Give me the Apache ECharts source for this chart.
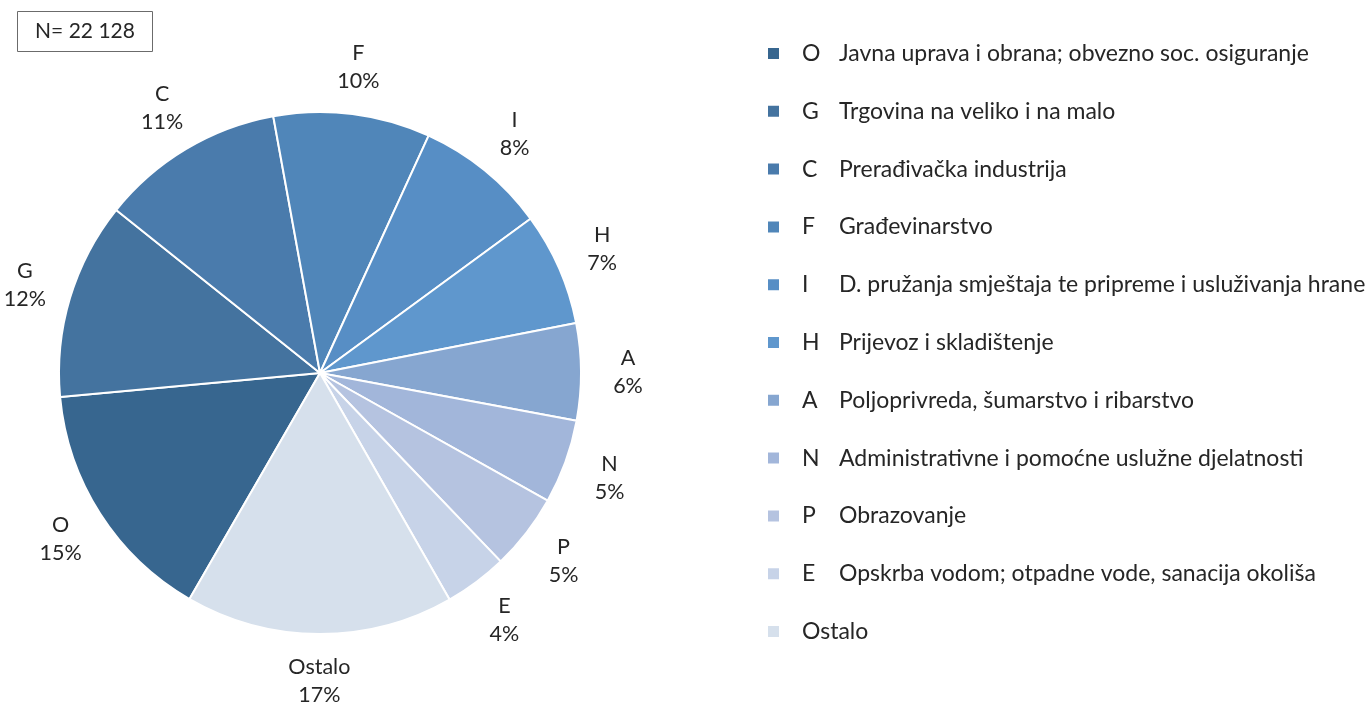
<!DOCTYPE html>
<html>
<head>
<meta charset="utf-8">
<title>Djelatnosti</title>
<script src="https://cdn.jsdelivr.net/npm/echarts@6/dist/echarts.min.js"></script>
<style>
  html, body { margin: 0; padding: 0; background: #ffffff; }
  #chart { width: 1372px; height: 704px; }
</style>
</head>
<body>
<div id="chart"></div>
<script>
// Activity codes, their full names and share of the total (%)
const codes = ['O', 'G', 'C', 'F', 'I', 'H', 'A', 'N', 'P', 'E', 'Ostalo'];
const names = [
  'Javna uprava i obrana; obvezno soc. osiguranje',
  'Trgovina na veliko i na malo',
  'Prerađivačka industrija',
  'Građevinarstvo',
  'D. pružanja smještaja te pripreme i usluživanja hrane',
  'Prijevoz i skladištenje',
  'Poljoprivreda, šumarstvo i ribarstvo',
  'Administrativne i pomoćne uslužne djelatnosti',
  'Obrazovanje',
  'Opskrba vodom; otpadne vode, sanacija okoliša',
  ''
];
const shares = [15.2, 12.2, 11.4, 9.7, 8.1, 7.0, 6.0, 5.2, 4.7, 3.9, 16.6];
const colors = ['#37668f', '#44739f', '#4a7bac', '#5086b9', '#578ec5', '#5f97cd',
                '#86a6d0', '#a2b6da', '#b5c3e0', '#c7d3e8', '#d6e0ec'];
const totalLabel = 'N= 22 128';

const FONT = 'Lato, "Noto Sans", sans-serif';
const TEXT = '#262626';

const pieData = codes.map((c, i) => ({
  name: c,
  value: shares[i],
  itemStyle: { color: colors[i] }
}));
const labelData = codes.map((c, i) => ({ name: c, value: shares[i] }));
const fullName = {};
codes.forEach((c, i) => { fullName[c] = names[i]; });

const chart = echarts.init(document.getElementById('chart'), null, { renderer: 'canvas' });

chart.setOption({
  animation: false,
  backgroundColor: '#ffffff',
  graphic: [{
    type: 'group',
    left: 17,
    top: 11,
    children: [
      { type: 'rect', shape: { x: 0, y: 0, width: 135, height: 40 },
        style: { fill: '#ffffff', stroke: '#6b6b6b', lineWidth: 1 } },
      { type: 'text', x: 67.5, y: 20,
        style: { text: totalLabel, fill: TEXT, font: '21px ' + FONT,
                 align: 'center', verticalAlign: 'middle' } }
    ]
  }],
  legend: {
    orient: 'vertical',
    left: 761,
    top: 37,
    itemWidth: 13,
    itemHeight: 13,
    itemGap: 34.8,
    itemTextGap: 7,
    icon: 'rect',
    data: codes,
    formatter: function (c) {
      return fullName[c]
        ? '{s|}{l|' + c + '}{n|' + fullName[c] + '}'
        : '{s|}{n|' + c + '}';
    },
    textStyle: {
      color: TEXT,
      fontFamily: FONT,
      fontSize: 23,
      lineHeight: 22,
      rich: {
        s: { width: 17 },
        l: { width: 37, fontSize: 23, fontFamily: FONT, color: TEXT },
        n: { fontSize: 23, fontFamily: FONT, color: TEXT }
      }
    }
  },
  series: [
    {
      type: 'pie',
      center: [320, 373],
      radius: [0, 261],
      startAngle: 240,
      clockwise: true,
      silent: true,
      label: { show: false },
      labelLine: { show: false },
      itemStyle: { borderColor: '#ffffff', borderWidth: 2 },
      data: pieData
    },
    {
      // transparent ring that carries the centred outside labels
      type: 'pie',
      center: [320, 373],
      radius: [290, 320],
      startAngle: 240,
      clockwise: true,
      silent: true,
      percentPrecision: 0,
      itemStyle: { color: 'rgba(0,0,0,0)' },
      label: {
        show: true,
        position: 'inside',
        formatter: '{b}\n{d}%',
        color: TEXT,
        fontFamily: FONT,
        fontSize: 21.5,
        lineHeight: 28,
        align: 'center'
      },
      labelLine: { show: false },
      data: labelData
    }
  ]
});
</script>
</body>
</html>
